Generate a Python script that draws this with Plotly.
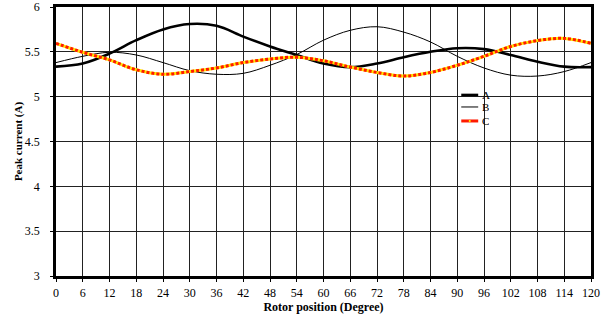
import plotly.graph_objects as go

deg = list(range(0, 121, 6))
A = [5.335, 5.37, 5.48, 5.63, 5.75, 5.81, 5.79, 5.67, 5.56, 5.465, 5.37,
     5.33, 5.37, 5.44, 5.50, 5.54, 5.53, 5.465, 5.39, 5.335, 5.33]
B = [5.38, 5.45, 5.495, 5.465, 5.38, 5.29, 5.25, 5.26, 5.35, 5.47, 5.63,
     5.74, 5.78, 5.72, 5.61, 5.45, 5.32, 5.24, 5.23, 5.28, 5.38]
C = [5.595, 5.495, 5.41, 5.30, 5.25, 5.28, 5.32, 5.38, 5.42, 5.44, 5.40,
     5.33, 5.27, 5.23, 5.27, 5.35, 5.45, 5.56, 5.625, 5.65, 5.595]
x_ticks = list(range(0, 121, 6))
y_ticks = [3, 3.5, 4, 4.5, 5, 5.5, 6]
series_names = ["A", "B", "C"]

font = "Liberation Serif"

fig = go.Figure()
fig.add_trace(go.Scatter(x=deg, y=A, name="A", mode="lines",
                         line=dict(color="black", width=2.6, shape="spline")))
fig.add_trace(go.Scatter(x=deg, y=B, name="B", mode="lines",
                         line=dict(color="black", width=1, shape="spline")))
fig.add_trace(go.Scatter(x=deg, y=C, name="C", mode="lines",
                         line=dict(color="#ffe600", width=3, shape="spline")))
fig.add_trace(go.Scatter(x=deg, y=C, name="C", mode="lines",
                         line=dict(color="#ff1a00", width=3, shape="spline", dash="3px,2px")))

# compact legend (box, samples, labels) placed in the legend area of the plot
shapes = [dict(type="rect", xref="x", yref="y", x0=88.8, x1=98.9, y0=4.651, y1=5.12,
               fillcolor="white", line=dict(width=0), layer="below")]
rows_y = [5.019, 4.885, 4.729]
sample_styles = [dict(color="black", width=2.6), dict(color="black", width=1),
                 dict(color="#ff1a00", width=3)]
for yy, st in zip(rows_y, sample_styles):
    shapes.append(dict(type="line", xref="x", yref="y", x0=90.9, x1=94.7, y0=yy, y1=yy,
                       line=st, layer="above"))
shapes.append(dict(type="line", xref="x", yref="y", x0=92.6, x1=93.0, y0=rows_y[2], y1=rows_y[2],
                   line=dict(color="#ffe600", width=2), layer="above"))
annotations = [dict(x=95.4, y=yy, xref="x", yref="y", text=n, showarrow=False,
                    xanchor="left", yanchor="middle", height=12, borderpad=0,
                    font=dict(family=font, size=11))
               for yy, n in zip(rows_y, series_names)]

fig.update_layout(
    width=612, height=320,
    margin=dict(l=56, r=21, t=7, b=44),
    paper_bgcolor="white", plot_bgcolor="white",
    font=dict(family=font, size=11, color="black"),
    showlegend=False,
    shapes=shapes, annotations=annotations,
    xaxis=dict(range=[0, 120], tickvals=x_ticks, ticktext=[str(v) for v in x_ticks],
               automargin=False,
               showgrid=True, gridcolor="#222", gridwidth=1,
               showline=True, linecolor="black", linewidth=2.5, mirror=True,
               ticks="outside", ticklen=3, tickcolor="black", ticklabelstandoff=1,
               zeroline=False, tickfont=dict(family=font, size=12),
               title=dict(text="<b>Rotor position (Degree)</b>", font=dict(family=font, size=12), standoff=4)),
    yaxis=dict(range=[3, 6], tickvals=y_ticks, ticktext=["3", "3.5", "4", "4.5", "5", "5.5", "6"],
               automargin=False,
               showgrid=True, gridcolor="#222", gridwidth=1,
               showline=True, linecolor="black", linewidth=2.5, mirror=True,
               ticks="outside", ticklen=3, tickcolor="black", ticklabelstandoff=8,
               zeroline=False, tickfont=dict(family=font, size=12),
               title=dict(text="<b>Peak current (A)</b>", font=dict(family=font, size=11), standoff=0)),
)

fig.write_html("out.html", config={"displayModeBar": False},
               post_script="document.body.style.margin='0';")
